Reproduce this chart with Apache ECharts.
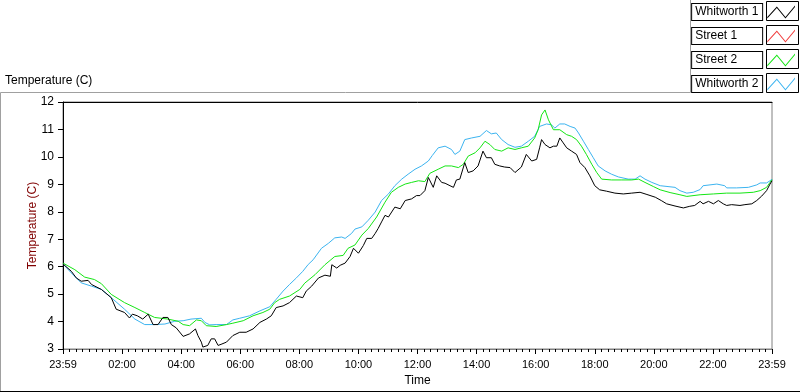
<!DOCTYPE html>
<html>
<head>
<meta charset="utf-8">
<script src="https://cdn.jsdelivr.net/npm/echarts@6/dist/echarts.min.js"></script>
<style>
  html, body { margin: 0; padding: 0; background: #fff; }
  #chart { width: 800px; height: 392px; }
</style>
</head>
<body>
<div id="chart"></div>
<script>
// minutes after 23:59 of the previous day, temperature in C
const seriesNames = ['Whitworth 1', 'Street 1', 'Street 2', 'Whitworth 2']
const seriesColors = ['#000000', '#f03c3c', '#14e614', '#3cb4f0']

const whitworth1 = [
  [0, 6.10], [17, 5.83], [27, 5.59], [37, 5.47], [51, 5.50], [58, 5.35], [78, 5.17], [98, 4.87],
  [108, 4.45], [125, 4.33], [135, 4.13], [141, 4.27], [151, 4.21], [162, 4.09], [173, 4.27], [183, 3.89],
  [193, 3.89], [203, 4.15], [213, 4.15], [220, 3.89], [230, 3.77], [244, 3.46], [257, 3.55], [269, 3.73],
  [274, 3.49], [281, 3.25], [284, 3.07], [294, 3.13], [301, 3.37], [308, 3.37], [315, 3.13], [321, 3.17],
  [332, 3.25], [345, 3.49], [359, 3.61], [372, 3.61], [386, 3.73], [400, 3.97], [413, 4.09], [423, 4.21],
  [433, 4.51], [447, 4.57], [460, 4.69], [474, 4.93], [487, 4.87], [494, 5.11], [505, 5.29], [519, 5.59],
  [532, 5.69], [543, 5.65], [546, 6.07], [556, 5.95], [563, 6.05], [573, 6.13], [583, 6.37], [590, 6.67],
  [600, 6.49], [610, 6.77], [617, 7.03], [627, 7.03], [634, 7.21], [640, 7.39], [647, 7.63], [654, 7.87],
  [661, 7.81], [674, 8.17], [685, 8.11], [695, 8.41], [708, 8.47], [718, 8.59], [725, 8.59], [735, 8.77],
  [742, 9.25], [752, 8.89], [759, 9.31], [769, 9.07], [776, 9.04], [786, 8.95], [793, 8.89], [799, 9.16],
  [806, 9.19], [816, 9.79], [823, 9.43], [833, 9.49], [843, 9.67], [853, 10.21], [860, 9.97], [870, 9.97],
  [877, 9.73], [887, 9.67], [897, 9.63], [908, 9.61], [918, 9.43], [931, 9.63], [941, 10.09], [952, 9.85],
  [962, 9.91], [968, 10.33], [972, 10.63], [979, 10.45], [989, 10.33], [996, 10.39], [1003, 10.39], [1009, 10.69],
  [1016, 10.51], [1023, 10.33], [1033, 10.21], [1043, 10.09], [1050, 9.79], [1060, 9.61], [1070, 9.31], [1080, 8.95],
  [1090, 8.80], [1104, 8.75], [1121, 8.68], [1138, 8.65], [1155, 8.68], [1172, 8.71], [1186, 8.63], [1203, 8.53],
  [1216, 8.40], [1226, 8.29], [1243, 8.21], [1260, 8.14], [1273, 8.20], [1283, 8.23], [1294, 8.38], [1300, 8.29],
  [1311, 8.38], [1321, 8.29], [1331, 8.41], [1341, 8.29], [1348, 8.23], [1358, 8.26], [1375, 8.23], [1385, 8.26],
  [1399, 8.29], [1409, 8.41], [1419, 8.57], [1429, 8.77], [1436, 9.01], [1440, 9.13]
]

const street1 = []

const street2 = [
  [0, 6.13], [24, 5.89], [44, 5.62], [64, 5.53], [78, 5.38], [98, 4.99], [125, 4.69], [146, 4.51],
  [166, 4.33], [186, 4.15], [213, 4.09], [234, 4.01], [244, 3.89], [257, 3.85], [271, 4.06], [281, 4.03],
  [291, 3.85], [311, 3.82], [332, 3.89], [345, 3.94], [366, 4.03], [386, 4.21], [406, 4.33], [420, 4.45],
  [430, 4.69], [440, 4.81], [460, 4.93], [481, 5.17], [491, 5.40], [512, 5.71], [532, 6.07], [552, 6.37],
  [569, 6.41], [579, 6.67], [593, 6.79], [607, 7.15], [620, 7.39], [637, 7.81], [654, 8.35], [667, 8.71],
  [681, 8.89], [695, 9.01], [708, 9.07], [722, 9.13], [735, 9.10], [745, 9.40], [762, 9.55], [776, 9.67],
  [789, 9.67], [803, 9.61], [813, 9.73], [823, 10.03], [837, 10.15], [847, 10.33], [857, 10.57], [867, 10.45],
  [877, 10.27], [891, 10.21], [904, 10.33], [918, 10.27], [931, 10.33], [945, 10.39], [958, 10.69], [965, 10.99],
  [972, 11.53], [979, 11.71], [986, 11.35], [996, 10.99], [1009, 10.99], [1023, 10.81], [1033, 10.75], [1043, 10.63],
  [1053, 10.39], [1063, 10.09], [1074, 9.73], [1084, 9.43], [1094, 9.19], [1114, 9.16], [1135, 9.16], [1155, 9.16],
  [1169, 9.19], [1182, 9.07], [1199, 8.92], [1213, 8.80], [1233, 8.70], [1253, 8.62], [1267, 8.56], [1294, 8.62],
  [1321, 8.65], [1348, 8.68], [1375, 8.68], [1402, 8.71], [1416, 8.77], [1429, 8.89], [1436, 9.07], [1440, 9.17]
]

const whitworth2 = [
  [0, 6.10], [17, 5.77], [37, 5.41], [58, 5.29], [78, 5.17], [98, 4.87], [125, 4.45], [146, 4.09],
  [166, 3.89], [186, 3.89], [207, 3.91], [227, 4.01], [244, 4.03], [260, 4.09], [281, 4.12], [288, 3.97],
  [298, 3.88], [311, 3.89], [332, 3.89], [345, 4.06], [359, 4.12], [379, 4.21], [400, 4.39], [420, 4.54],
  [433, 4.81], [447, 5.11], [460, 5.35], [474, 5.59], [487, 5.83], [498, 6.08], [508, 6.25], [525, 6.67],
  [539, 6.85], [552, 7.05], [566, 7.08], [573, 7.03], [586, 7.21], [593, 7.37], [607, 7.45], [620, 7.69],
  [634, 7.99], [647, 8.41], [661, 8.65], [674, 8.95], [688, 9.19], [701, 9.37], [715, 9.55], [728, 9.67],
  [742, 9.85], [750, 10.05], [762, 10.33], [776, 10.39], [789, 10.27], [796, 10.09], [806, 10.21], [816, 10.63],
  [830, 10.69], [847, 10.75], [860, 10.96], [870, 10.84], [880, 10.87], [891, 10.63], [904, 10.45], [918, 10.35],
  [931, 10.39], [945, 10.57], [958, 10.75], [968, 11.11], [982, 11.20], [992, 11.17], [999, 11.05], [1009, 11.20],
  [1019, 11.20], [1030, 11.11], [1040, 11.05], [1047, 10.87], [1057, 10.57], [1067, 10.27], [1077, 9.97], [1087, 9.67],
  [1101, 9.49], [1114, 9.37], [1128, 9.27], [1148, 9.19], [1162, 9.19], [1172, 9.31], [1182, 9.19], [1196, 9.07],
  [1213, 8.95], [1243, 8.89], [1253, 8.77], [1267, 8.68], [1280, 8.71], [1294, 8.81], [1300, 8.95], [1328, 9.01],
  [1344, 8.95], [1348, 8.87], [1368, 8.87], [1392, 8.89], [1409, 8.98], [1416, 9.05], [1429, 9.05], [1436, 9.13],
  [1440, 9.19]
]

const seriesData = [whitworth1, street1, street2, whitworth2]

const font = 'Liberation Sans'

function timeLabel (v) {
  if (v === 0 || v === 1440) return '23:59'
  const h = Math.floor(v / 60)
  return (h < 10 ? '0' + h : '' + h) + ':00'
}

// black boxes round the legend swatches
const swatchBoxes = seriesNames.map((n, i) => ({
  type: 'rect',
  z: 0,
  shape: { x: 766.5, y: 1.5 + i * 24, width: 32, height: 19 },
  style: { fill: null, stroke: '#000', lineWidth: 1 }
}))

const chart = echarts.init(document.getElementById('chart'))
chart.setOption({
  backgroundColor: '#fff',
  animation: false,
  textStyle: { fontFamily: font },
  title: {
    text: 'Temperature (C)',
    left: 5,
    top: 75,
    padding: 0,
    textStyle: { fontFamily: font, fontSize: 12, fontWeight: 'normal', color: '#000' }
  },
  graphic: [
    // panel frame
    { type: 'polyline', shape: { points: [[0.5, 392], [0.5, 92.5], [690.5, 92.5], [690.5, 0]] }, style: { stroke: '#a0a0a0', lineWidth: 1, fill: null } },
    { type: 'line', shape: { x1: 0, y1: 391.5, x2: 800, y2: 391.5 }, style: { stroke: '#000', lineWidth: 1 } }
  ].concat(swatchBoxes),
  legend: {
    orient: 'vertical',
    right: 5,
    top: 3,
    padding: 0,
    itemGap: 6,
    itemWidth: 28,
    itemHeight: 13,
    align: 'right',
    z: 10,
    // thin zig-zag band, filled with the series colour
    icon: 'path://M0,12 L10,1 L19,12 L29,0 L29,1.6 L19,13.6 L10,2.6 L0,13.6 Z',
    selectedMode: false,
    formatter: name => '{a|' + name + '}',
    textStyle: {
      fontFamily: font,
      fontSize: 12,
      color: '#000',
      padding: [1, 3],
      backgroundColor: '#fff',
      borderColor: '#000',
      borderWidth: 1,
      rich: {
        a: { width: 64, align: 'left', lineHeight: 14, fontSize: 12, fontFamily: font, color: '#000' }
      }
    },
    data: seriesNames
  },
  grid: {
    left: 63,
    right: 28,
    top: 102,
    bottom: 40,
    show: true,
    borderColor: '#808080',
    borderWidth: 1,
    backgroundColor: '#fff'
  },
  xAxis: [
    {
      type: 'value',
      min: 0,
      max: 1440,
      interval: 120,
      name: 'Time',
      nameLocation: 'middle',
      nameGap: 26,
      nameMoveOverlap: false,
      nameTextStyle: { fontFamily: font, fontSize: 12, color: '#000' },
      axisLine: { onZero: false, lineStyle: { color: '#808080' } },
      axisTick: { show: true, length: 5, inside: false, lineStyle: { color: '#000', width: 1 } },
      minorTick: { show: true, splitNumber: 9, length: 3, lineStyle: { color: '#000', width: 1 } },
      splitLine: { show: false },
      axisLabel: { formatter: timeLabel, margin: 10, fontFamily: font, fontSize: 11, color: '#000', showMinLabel: true, showMaxLabel: true }
    },
    {
      type: 'value',
      position: 'top',
      min: 0,
      max: 1440,
      axisLine: { onZero: false, lineStyle: { color: '#000' } },
      axisTick: { show: false },
      axisLabel: { show: false },
      splitLine: { show: false }
    }
  ],
  yAxis: {
    type: 'value',
    min: 3,
    max: 12,
    interval: 1,
    name: 'Temperature (C)',
    nameLocation: 'middle',
    nameGap: 24,
    nameMoveOverlap: false,
    nameTextStyle: { fontFamily: font, fontSize: 12, color: '#800000' },
    axisLine: { show: true, onZero: false, lineStyle: { color: '#000' } },
    axisTick: { show: true, length: 5, lineStyle: { color: '#000' } },
    splitLine: { show: false },
    axisLabel: { margin: 9, fontFamily: font, fontSize: 12, color: '#000' }
  },
  series: seriesNames.map((name, i) => ({
    name: name,
    type: 'line',
    data: seriesData[i],
    showSymbol: false,
    symbol: 'none',
    color: seriesColors[i],
    lineStyle: { width: 1, color: seriesColors[i] },
    z: 10 - i
  }))
})
</script>
</body>
</html>
